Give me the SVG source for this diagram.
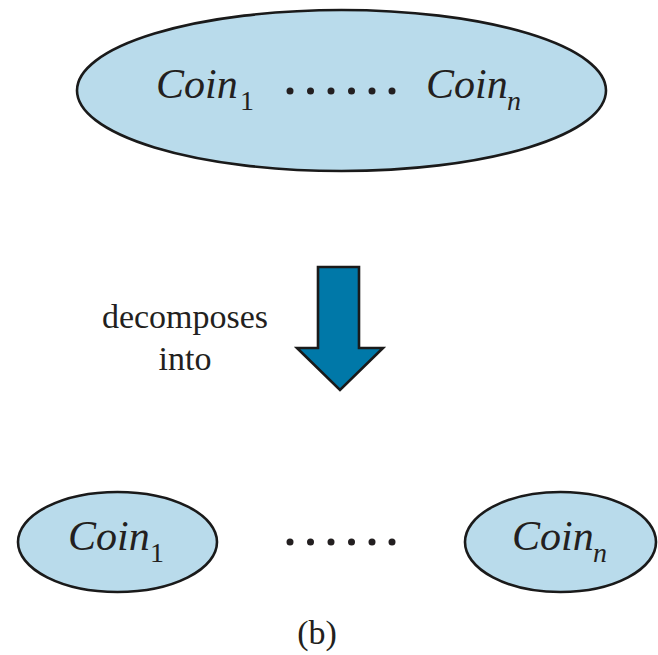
<svg xmlns="http://www.w3.org/2000/svg" width="658" height="655" viewBox="0 0 658 655" font-family="'Liberation Serif', 'Times New Roman', 'DejaVu Serif', serif">
<style>
.node{fill:#b9dbeb;stroke:#1a1a1a;stroke-width:2.6}
.coin{font-style:italic;font-size:42px;fill:#231f20}
.sub{font-size:28px;fill:#231f20}
.subi{font-style:italic;font-size:28px;fill:#231f20}
.lbl{font-size:34px;fill:#231f20;text-anchor:middle}
.dot{fill:#231f20}
</style>
<rect width="658" height="655" fill="#fff"/>
<g id="whole">
<ellipse class="node" cx="341.5" cy="90.5" rx="264.5" ry="80.5"/>
<text class="coin" x="156" y="98">Coin</text><text class="sub" x="240" y="110">1</text>
<g class="dot"><circle cx="290" cy="91" r="3.5"/><circle cx="310.5" cy="91" r="3.5"/><circle cx="331" cy="91" r="3.5"/><circle cx="351.5" cy="91" r="3.5"/><circle cx="372" cy="91" r="3.5"/><circle cx="392" cy="91" r="3.5"/></g>
<text class="coin" x="426" y="98">Coin</text><text class="subi" x="507" y="110">n</text>
</g>
<g id="connectors">
<polygon points="318,267 359,267 359,348 383,348 340,390 297,348 318,348" fill="#0078a8" stroke="#1a1a1a" stroke-width="2.6" stroke-linejoin="miter"/>
<text class="lbl" x="185" y="328">decomposes</text>
<text class="lbl" x="185" y="370">into</text>
</g>
<g id="coin1">
<ellipse class="node" cx="117.5" cy="542" rx="99.5" ry="50"/>
<text class="coin" x="68" y="550">Coin</text><text class="sub" x="150" y="562">1</text>
</g>
<g class="dot"><circle cx="290" cy="542" r="3.5"/><circle cx="310.5" cy="542" r="3.5"/><circle cx="331" cy="542" r="3.5"/><circle cx="351.5" cy="542" r="3.5"/><circle cx="372" cy="542" r="3.5"/><circle cx="392" cy="542" r="3.5"/></g>
<g id="coinn">
<ellipse class="node" cx="560.5" cy="542" rx="95.5" ry="50"/>
<text class="coin" x="512" y="550">Coin</text><text class="subi" x="593" y="562">n</text>
</g>
<text class="lbl" x="317" y="644">(b)</text>
</svg>
